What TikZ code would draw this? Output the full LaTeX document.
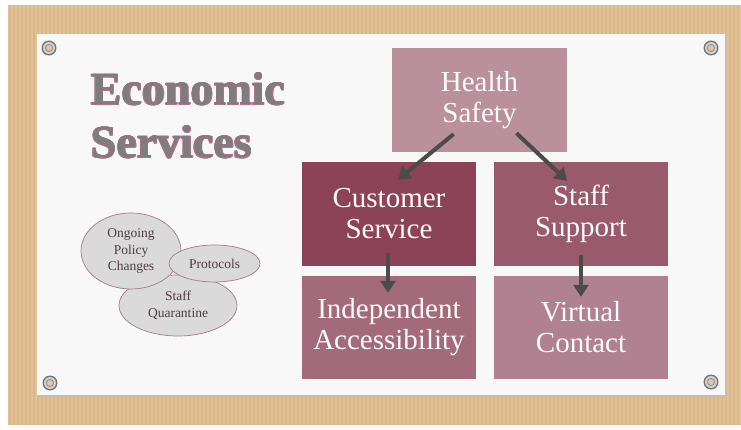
\documentclass[tikz,border=0pt]{standalone}
\usepackage{fontspec}
\setmainfont{Liberation Serif}
\usetikzlibrary{shapes.geometric, arrows.meta, calc}

\definecolor{wood}{HTML}{E3C296}
\definecolor{woodline}{HTML}{DAB68A}
\definecolor{paper}{HTML}{F8F8F8}
\definecolor{mauve}{HTML}{B0708A}
\definecolor{titlegray}{HTML}{7F7C7D}
\definecolor{hsfill}{HTML}{B9909C}
\definecolor{csfill}{HTML}{8C4358}
\definecolor{ssfill}{HTML}{985A6C}
\definecolor{iafill}{HTML}{A36A7B}
\definecolor{vcfill}{HTML}{B08190}
\definecolor{arrowgray}{HTML}{4B4B4B}
\definecolor{bubblefill}{HTML}{DADADA}
\definecolor{bubbleline}{HTML}{A27B87}
\definecolor{bubbletext}{HTML}{4E3C43}

\begin{document}
\begin{tikzpicture}[x=1pt, y=-1pt,
  box/.style={rectangle, minimum width=174pt, minimum height=104pt, inner sep=0pt,
    align=center, text=white!96!pink, font=\fontsize{29pt}{31pt}\selectfont},
  bubble/.style={ellipse, fill=bubblefill, draw=bubbleline, line width=0.7pt, inner sep=0pt,
    align=center, text=bubbletext, font=\fontsize{13.5pt}{16.5pt}\selectfont},
  arr/.style={draw=arrowgray, line width=4pt, -{Triangle[length=12pt,width=15pt]}},
  title/.style={anchor=base west, inner sep=0pt, font=\fontsize{46pt}{53pt}\selectfont\bfseries}]
  \useasboundingbox (0,0) rectangle (741,430);
  % cork board with its grain
  \fill[white] (0,0) rectangle (741,430);
  \fill[wood] (8,5) rectangle (741,425);
  \foreach \x in {10,14,...,738}
    \draw[woodline, line width=1.4pt] (\x,5) -- (\x,425);
  % sheet of paper
  \fill[black!25, opacity=0.5] (39,36) rectangle (727,398);
  \fill[paper] (37,34) rectangle (725,395);
  % pins
  \foreach \p in {(49,48),(711,48),(50,383),(711,382)} {
    \fill[black!55] \p circle (7.5pt);
    \fill[black!18] \p circle (6pt);
    \fill[black!45] \p circle (4pt);
    \fill[brown!45!white] \p circle (3pt);
  }
  % title, pink rim first
  \foreach \a in {0,45,...,315} {
    \node[title, text=mauve] at ($(91,105)+(\a:0.7)$) {Economic};
    \node[title, text=mauve] at ($(91,158)+(\a:0.7)$) {Services};
  }
  \node[title, text=titlegray] (econ) at (91,105) {Economic};
  \node[title, text=titlegray] (serv) at (91,158) {Services};
  % bubbles
  \node[bubble, minimum width=118pt, minimum height=61pt] (sq) at (178,305.5) {Staff\\Quarantine};
  \node[bubble, minimum width=100pt, minimum height=76pt] (og) at (131,251) {Ongoing\\Policy\\Changes};
  \node[bubble, minimum width=91pt, minimum height=37pt] (pr) at (214.5,263.5) {Protocols};
  % boxes
  \node[box, fill=hsfill, minimum width=175pt] (hs) at (479.5,100) {Health\\Safety};
  \node[box, fill=csfill] (cs) at (389,214) {Customer\\Service};
  \node[box, fill=ssfill] (ss) at (581,214) {Staff\\Support};
  \node[box, fill=iafill, minimum height=103pt] (ia) at (389,327.5) {Independent\\Accessibility};
  \node[box, fill=vcfill, minimum height=103pt] (vc) at (581,327.5) {Virtual\\Contact};
  % arrows
  \draw[arr] ($(hs.south)+(-26,-18)$) -- ($(cs.north)+(9,18)$);
  \draw[arr] ($(hs.south)+(37,-19)$) -- ($(ss.north)+(-14,19)$);
  \draw[arr] ($(cs.south)+(-1,-13)$) -- ($(ia.north)+(-1,17)$);
  \draw[arr] ($(ss.south)+(0,-11)$) -- ($(vc.north)+(0,21)$);
\end{tikzpicture}
\end{document}
